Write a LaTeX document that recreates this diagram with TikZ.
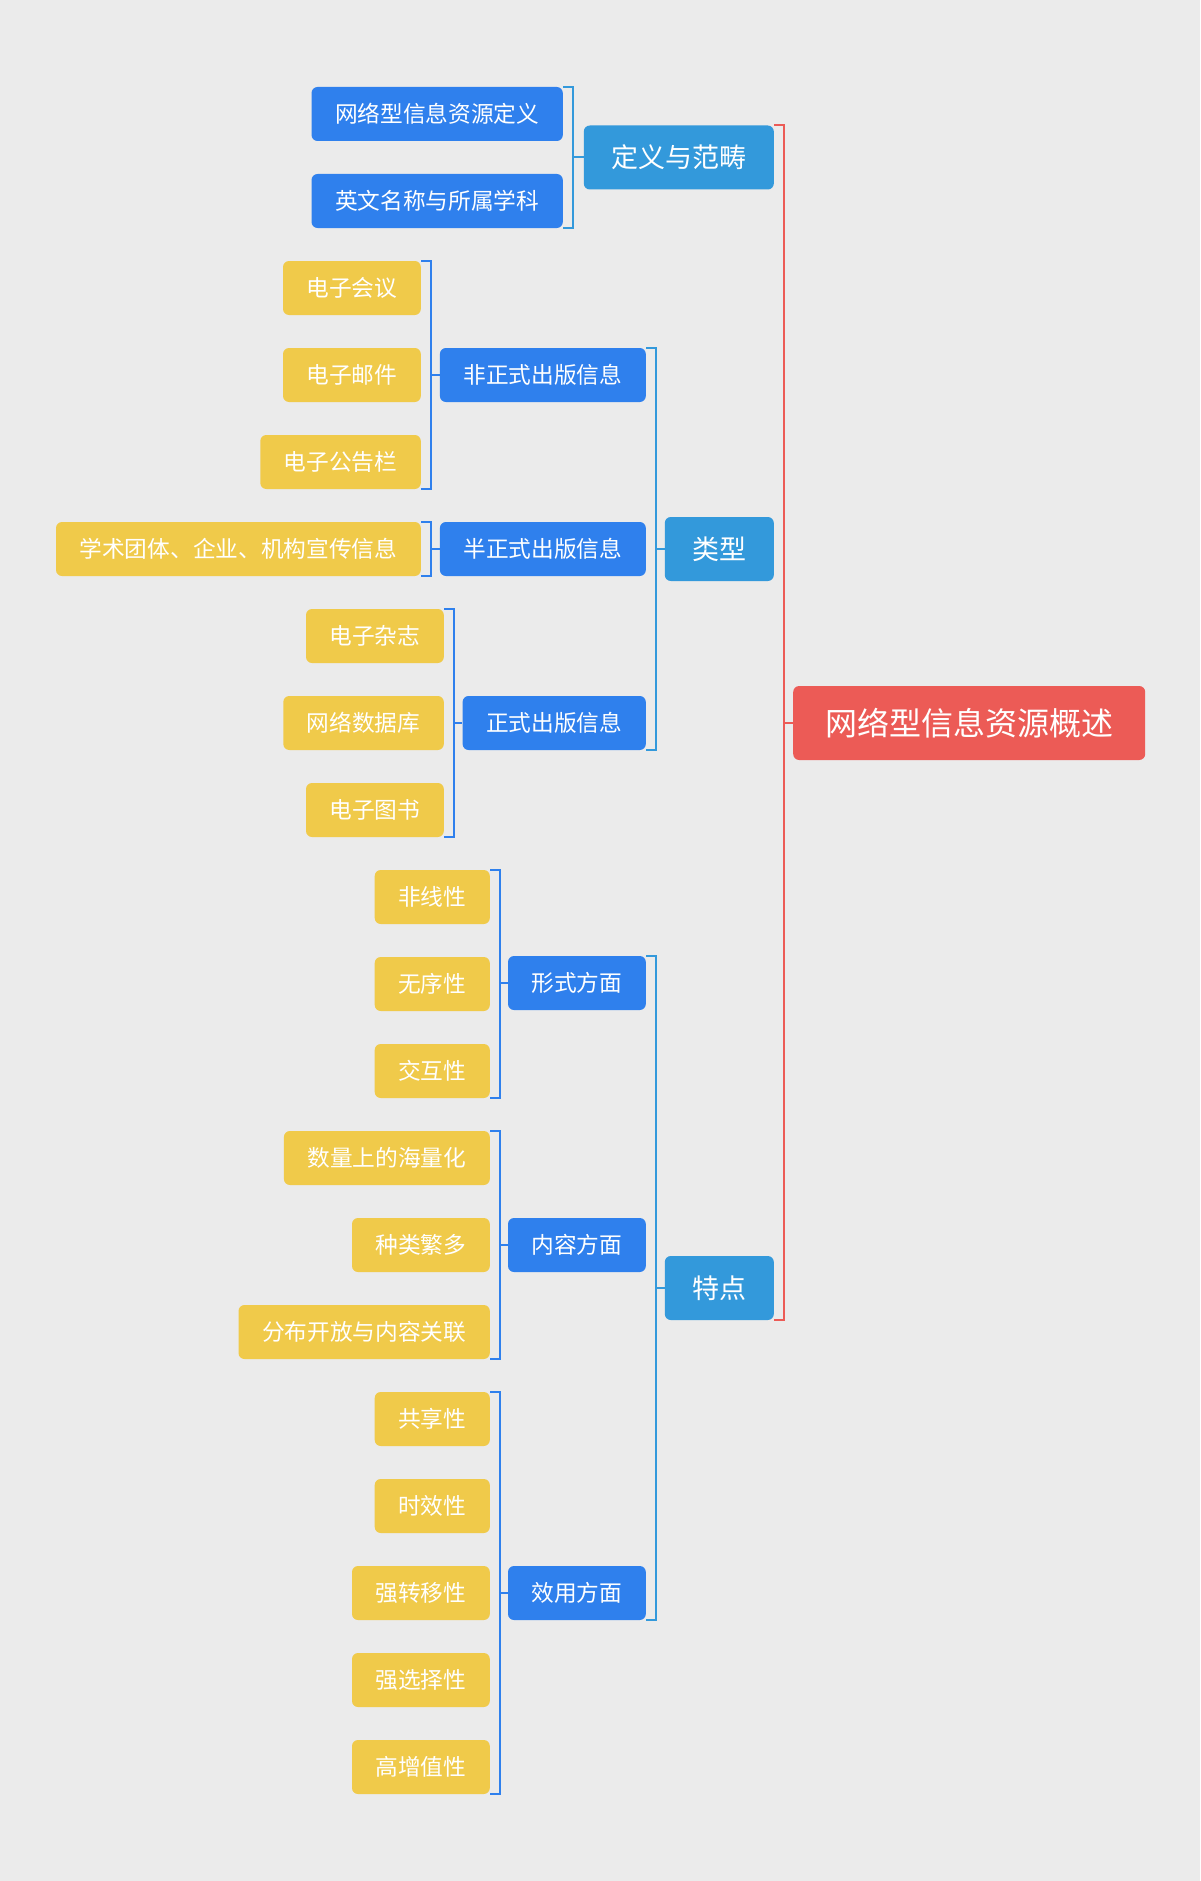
\documentclass[tikz,border=0pt]{standalone}
\usepackage{fontspec}
\newfontfamily\cjk{Noto Sans CJK SC}
\definecolor{bgc}{HTML}{EBEBEB}
\definecolor{rootc}{HTML}{EC5B56}
\definecolor{lonec}{HTML}{3399DB}
\definecolor{ltwoc}{HTML}{2F80ED}
\definecolor{leafc}{HTML}{F0CA4A}
\tikzset{
  box/.style={rounded corners=6pt, text=white, inner ysep=0pt, anchor=east},
  rootbox/.style={box, fill=rootc, minimum height=74pt, inner xsep=32pt, font=\cjk\fontsize{32}{38}\selectfont, anchor=west},
  onebox/.style={box, fill=lonec, minimum height=64pt, inner xsep=27.5pt, font=\cjk\fontsize{27}{32}\selectfont},
  twobox/.style={box, fill=ltwoc, minimum height=54pt, inner xsep=23.5pt, font=\cjk\fontsize{22.7}{27}\selectfont},
  leafbox/.style={box, fill=leafc, minimum height=54pt, inner xsep=23.5pt, font=\cjk\fontsize{22.7}{27}\selectfont},
  brk/.style={line width=2pt},
}
\begin{document}
\begin{tikzpicture}[x=1pt,y=-1pt]
\fill[bgc] (0,0) rectangle (1200,1881);
\useasboundingbox (0,0) rectangle (1200,1881);
% root
\node[rootbox] (root) at (793,723) {网络型信息资源概述};
% level 1
\node[onebox] (dy) at (774,157.5) {定义与范畴};
\node[onebox] (lx) at (774,549) {类型};
\node[onebox] (td) at (774,1288) {特点};
% level 2
\node[twobox] (d1) at (563,114) {网络型信息资源定义};
\node[twobox] (d2) at (563,201) {英文名称与所属学科};
\node[twobox] (fz) at (646,375) {非正式出版信息};
\node[twobox] (bz) at (646,549) {半正式出版信息};
\node[twobox] (zs) at (646,723) {正式出版信息};
\node[twobox] (xs) at (646,983) {形式方面};
\node[twobox] (nr) at (646,1245) {内容方面};
\node[twobox] (xy) at (646,1593) {效用方面};
% leaves
\node[leafbox] (a1) at (421,288) {电子会议};
\node[leafbox] (a2) at (421,375) {电子邮件};
\node[leafbox] (a3) at (421,462) {电子公告栏};
\node[leafbox] (b1) at (421,549) {学术团体、企业、机构宣传信息};
\node[leafbox] (c1) at (444,636) {电子杂志};
\node[leafbox] (c2) at (444,723) {网络数据库};
\node[leafbox] (c3) at (444,810) {电子图书};
\node[leafbox] (e1) at (490,897) {非线性};
\node[leafbox] (e2) at (490,984) {无序性};
\node[leafbox] (e3) at (490,1071) {交互性};
\node[leafbox] (f1) at (490,1158) {数量上的海量化};
\node[leafbox] (f2) at (490,1245) {种类繁多};
\node[leafbox] (f3) at (490,1332) {分布开放与内容关联};
\node[leafbox] (g1) at (490,1419) {共享性};
\node[leafbox] (g2) at (490,1506) {时效性};
\node[leafbox] (g3) at (490,1593) {强转移性};
\node[leafbox] (g4) at (490,1680) {强选择性};
\node[leafbox] (g5) at (490,1767) {高增值性};
% brackets
\draw[brk, rootc] (dy.north east) -- ++(9.5,0) coordinate (rb) |- (td.south east);
\draw[brk, rootc] (rb |- root.west) -- (root.west);
\draw[brk, lonec] (d1.north east) -- ++(10,0) coordinate (db) |- (d2.south east);
\draw[brk, lonec] (db |- dy.west) -- (dy.west);
\draw[brk, lonec] (fz.north east) -- ++(9.5,0) coordinate (lb) |- (zs.south east);
\draw[brk, lonec] (lb |- lx.west) -- (lx.west);
\draw[brk, lonec] (xs.north east) -- ++(9.5,0) coordinate (tb) |- (xy.south east);
\draw[brk, lonec] (tb |- td.west) -- (td.west);
\draw[brk, ltwoc] (a1.north east) -- ++(10,0) coordinate (ab) |- (a3.south east);
\draw[brk, ltwoc] (ab |- fz.west) -- (fz.west);
\draw[brk, ltwoc] (b1.north east) -- ++(10,0) coordinate (bb) |- (b1.south east);
\draw[brk, ltwoc] (bb |- bz.west) -- (bz.west);
\draw[brk, ltwoc] (c1.north east) -- ++(10,0) coordinate (cb) |- (c3.south east);
\draw[brk, ltwoc] (cb |- zs.west) -- (zs.west);
\draw[brk, ltwoc] (e1.north east) -- ++(9.5,0) coordinate (eb) |- (e3.south east);
\draw[brk, ltwoc] (eb |- xs.west) -- (xs.west);
\draw[brk, ltwoc] (f1.north east) -- ++(9.5,0) coordinate (fb) |- (f3.south east);
\draw[brk, ltwoc] (fb |- nr.west) -- (nr.west);
\draw[brk, ltwoc] (g1.north east) -- ++(9.5,0) coordinate (gb) |- (g5.south east);
\draw[brk, ltwoc] (gb |- xy.west) -- (xy.west);
\end{tikzpicture}
\end{document}
